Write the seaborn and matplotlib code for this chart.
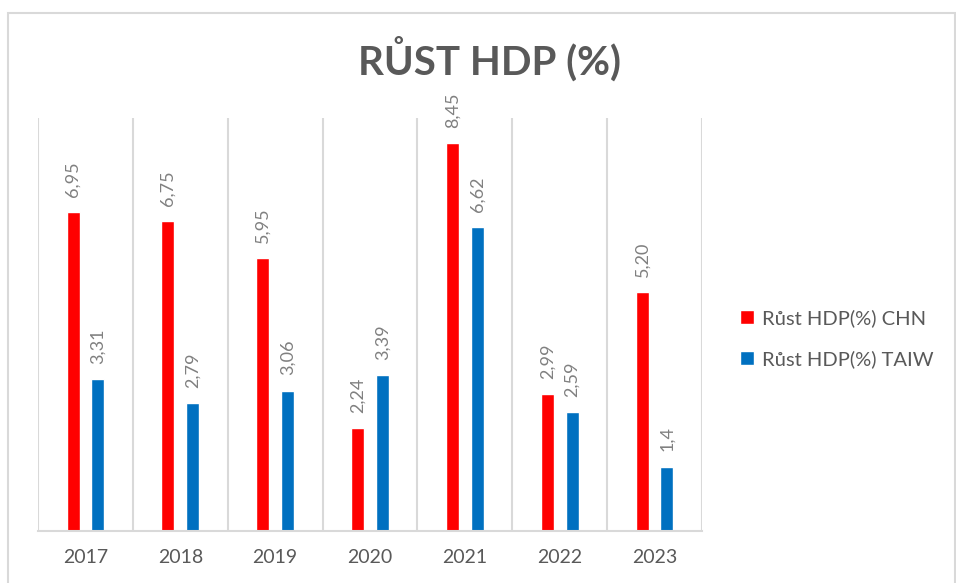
import pandas as pd
import matplotlib.pyplot as plt
import seaborn as sns
from matplotlib.patches import Rectangle

# Data
years = ["2017", "2018", "2019", "2020", "2021", "2022", "2023"]
chn = [6.95, 6.75, 5.95, 2.24, 8.45, 2.99, 5.20]
taiw = [3.31, 2.79, 3.06, 3.39, 6.62, 2.59, 1.4]
chn_labels = ["6,95", "6,75", "5,95", "2,24", "8,45", "2,99", "5,20"]
taiw_labels = ["3,31", "2,79", "3,06", "3,39", "6,62", "2,59", "1,4"]
series = ["Růst HDP(%) CHN", "Růst HDP(%) TAIW"]

df = pd.DataFrame({
    "year": years * 2,
    "value": chn + taiw,
    "series": [series[0]] * len(years) + [series[1]] * len(years),
})

sns.set_style("white")
plt.rcParams["font.family"] = ["Lato", "DejaVu Sans"]

fig = plt.figure(figsize=(9.56, 5.83), dpi=100)
ax = fig.add_axes([38 / 956, 1 - 531 / 583, (702 - 38) / 956, (531 - 118) / 583])

sns.barplot(data=df, x="year", y="value", hue="series", order=years,
            palette=["#ff0000", "#0070c0"], width=0.52, gap=0.47,
            saturation=1, legend=True, ax=ax)

for cont, labs in zip(ax.containers, [chn_labels, taiw_labels]):
    ax.bar_label(cont, labels=labs, rotation=90, padding=11,
                 fontsize=13, color="#808080")

ax.set_ylim(0, 9)
ax.set_xlim(-0.5, len(years) - 0.5)
ax.set_yticks([])
ax.set_xlabel("")
ax.set_ylabel("")
ax.tick_params(axis="x", length=0, pad=13, labelsize=14, labelcolor="#595959")

# category separators
for x in range(len(years) + 1):
    ax.axvline(x - 0.5, color="#d9d9d9", lw=1.5, zorder=0)
for s in ["top", "left", "right"]:
    ax.spines[s].set_visible(False)
ax.spines["bottom"].set_color("#d9d9d9")
ax.spines["bottom"].set_linewidth(1.5)

leg = ax.legend(loc="center left", bbox_to_anchor=(1.03, 0.465), frameon=False,
                fontsize=14.5, handlelength=0.7, handleheight=0.7,
                handletextpad=0.4, labelspacing=1.15)
for t in leg.get_texts():
    t.set_color("#595959")

fig.text(489 / 956, 1 - 59 / 583, "RŮST HDP (%)", ha="center", va="center",
         fontsize=29, fontweight="bold", color="#595959")

# chart frame
fig.patches.append(Rectangle((8 / 956, -0.02), 947 / 956, 1 - 13 / 583 + 0.02,
                             transform=fig.transFigure, fill=False,
                             edgecolor="#d9d9d9", lw=1.5))

fig.savefig("out.png", dpi=100)
